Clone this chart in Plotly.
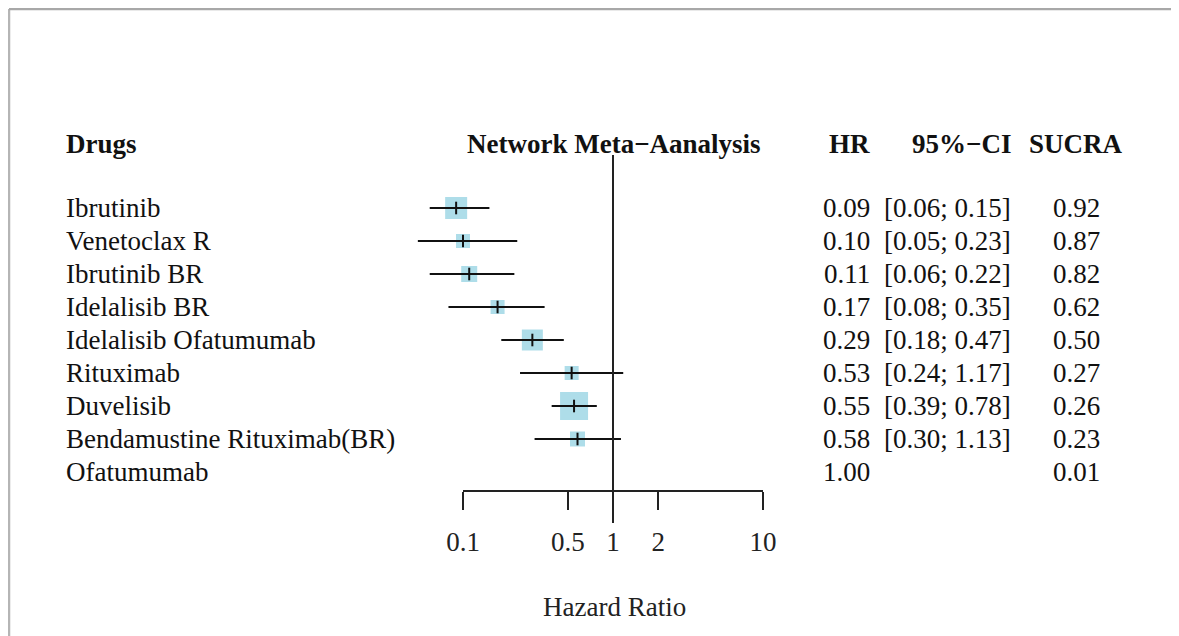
import plotly.graph_objects as go

drugs = ["Ibrutinib", "Venetoclax R", "Ibrutinib BR", "Idelalisib BR",
         "Idelalisib Ofatumumab", "Rituximab", "Duvelisib",
         "Bendamustine Rituximab(BR)", "Ofatumumab"]
hr = [0.09, 0.10, 0.11, 0.17, 0.29, 0.53, 0.55, 0.58, 1.00]
lower = [0.06, 0.05, 0.06, 0.08, 0.18, 0.24, 0.39, 0.30, None]
upper = [0.15, 0.23, 0.22, 0.35, 0.47, 1.17, 0.78, 1.13, None]
sucra = [0.92, 0.87, 0.82, 0.62, 0.50, 0.27, 0.26, 0.23, 0.01]
weights = [22, 14, 16, 14, 21, 14, 28, 15, None]  # box sizes (px) ~ study weight
tick_vals = [0.1, 0.5, 1, 2, 10]
tick_text = ["0.1", "0.5", "1", "2", "10"]

W, H = 1179, 636
OFF = 8  # page body offset
FONT = "Liberation Serif"
FS = 27
ROW0, ROWSTEP, AXIS_Y = 208 - OFF, 33, 490 - OFF
PPD = 150.0  # pixels per decade
X1 = 613 - OFF  # pixel of HR = 1


def fx(x):  # target screen x -> paper fraction
    return (x - OFF) / W


def fy(y):  # target screen y -> paper fraction
    return 1 - (y - OFF) / H


rows = list(range(len(drugs)))
n_ci = sum(1 for l in lower if l is not None)

fig = go.Figure()

# boxes (on the wide data axis)
fig.add_trace(go.Scatter(
    x=hr[:n_ci], y=rows[:n_ci], mode="markers", xaxis="x", yaxis="y",
    marker=dict(symbol="square", size=weights[:n_ci], color="#8CCFE0",
                line=dict(width=0)),
    cliponaxis=False, hoverinfo="skip", showlegend=False))

# CI lines + centre tick
fig.add_trace(go.Scatter(
    x=hr[:n_ci], y=rows[:n_ci], mode="markers", xaxis="x", yaxis="y",
    marker=dict(symbol="line-ns", size=9, line=dict(width=2, color="#111")),
    error_x=dict(type="data", symmetric=False,
                 array=[u - h for u, h in zip(upper[:n_ci], hr[:n_ci])],
                 arrayminus=[h - l for l, h in zip(lower[:n_ci], hr[:n_ci])],
                 width=0, thickness=2, color="#111"),
    cliponaxis=False, hoverinfo="skip", showlegend=False))

# invisible trace so the visible (0.1 - 10) axis is drawn
fig.add_trace(go.Scatter(x=[1], y=[0], xaxis="x2", yaxis="y", mode="markers",
                         marker=dict(opacity=0), hoverinfo="skip", showlegend=False))

ann = []


def txt(x, y, s, anchor="left", bold=False):
    ann.append(dict(x=fx(x), xref="paper", y=y, yref="y",
                    text=("<b>%s</b>" % s) if bold else s,
                    xanchor=anchor, yanchor="middle", showarrow=False,
                    font=dict(family=FONT, size=FS, color="#111")))


hdr = (143.5 - OFF - ROW0) / ROWSTEP
txt(64, hdr, "Drugs", "left", True)
txt(614, hdr, "Network Meta\u2212Aanalysis", "center", True)
txt(872, hdr, "HR", "right", True)
txt(1013, hdr, "95%\u2212CI", "right", True)
txt(1076, hdr, "SUCRA", "center", True)

for i, d in enumerate(drugs):
    txt(64, i, d, "left")
    txt(872, i, "%.2f" % hr[i], "right")
    if lower[i] is not None:
        txt(1013, i, "[%.2f; %.2f]" % (lower[i], upper[i]), "right")
    txt(1076, i, "%.2f" % sucra[i], "center")

ann.append(dict(x=fx(614.5), xref="paper", y=fy(607), yref="paper",
                text="Hazard Ratio", showarrow=False, xanchor="center", yanchor="middle",
                font=dict(family=FONT, size=FS, color="#222")))

shapes = [
    dict(type="line", xref="x", yref="paper", x0=1, x1=1,
         y0=fy(155), y1=fy(523), line=dict(color="#222", width=2)),
    # frame
    dict(type="line", xref="paper", yref="paper", x0=fx(9), x1=fx(9), y0=0, y1=fy(9),
         line=dict(color="#b5b5b5", width=2.5)),
    dict(type="line", xref="paper", yref="paper", x0=fx(9), x1=fx(1177), y0=fy(9), y1=fy(9),
         line=dict(color="#a8a8a8", width=2.5)),
    dict(type="line", xref="paper", yref="paper", x0=fx(1177), x1=fx(1177), y0=0, y1=fy(9),
         line=dict(color="#555", width=2)),
]

# data axis: wider range so marks below 0.1 are drawn; same px/decade
x_lo, x_hi = -1.7, 1.0
axis_common = dict(type="log", showgrid=False, zeroline=False, fixedrange=True)

fig.update_layout(
    width=W, height=H, margin=dict(l=0, r=0, t=0, b=0, autoexpand=False),
    paper_bgcolor="white", plot_bgcolor="rgba(0,0,0,0)",
    annotations=ann, shapes=shapes, showlegend=False,
    xaxis=dict(range=[x_lo, x_hi],
               domain=[(X1 + x_lo * PPD) / W, (X1 + x_hi * PPD) / W],
               visible=False, **axis_common),
    xaxis2=dict(range=[-1, 1], domain=[(X1 - PPD) / W, (X1 + PPD) / W], anchor="y",
                tickvals=tick_vals, ticktext=tick_text, ticks="outside", ticklen=18,
                tickwidth=2, tickcolor="#222", showline=True, linewidth=2, linecolor="#222",
                ticklabelstandoff=9, automargin=False,
                tickfont=dict(family=FONT, size=FS, color="#222"), **axis_common),
    yaxis=dict(range=[(AXIS_Y - ROW0) / ROWSTEP, -ROW0 / ROWSTEP],
               domain=[1 - AXIS_Y / H, 1], visible=False, showgrid=False,
               zeroline=False, fixedrange=True),
)

fig.write_html("out.html")
